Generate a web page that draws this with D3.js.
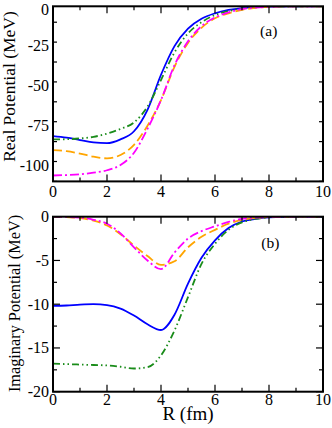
<!DOCTYPE html>
<html>
<head>
<meta charset="utf-8">
<script src="https://cdn.jsdelivr.net/npm/d3@7"></script>
<style>
  body { margin: 0; background: #fff; }
  svg { display: block; }
</style>
</head>
<body>
<svg id="chart" width="332" height="428" font-family="'Liberation Serif', 'DejaVu Serif', serif"></svg>
<script>
// radial grid (fm)
var R = [0, 0.5, 1, 1.5, 2, 2.5, 3, 3.5, 4, 4.5, 5, 5.5, 6, 6.5, 7, 7.5, 8, 9, 10];

// real potentials (MeV)
var realBlue    = [-81.5, -82.5, -84, -85.5, -86, -83.6, -78.5, -65, -43, -25, -14, -7.8, -4.4, -2.3, -1.1, -0.5, -0.2, 0, 0];
var realGreen   = [-83.6, -83.5, -83, -82, -80, -77, -73, -63, -46.3, -29, -17, -10, -5.5, -3, -1.5, -0.7, -0.3, 0, 0];
var realOrange  = [-90.3, -91, -92.5, -94.5, -95.5, -93.4, -87, -75, -58.9, -38, -23, -13.5, -7.5, -4.4, -2.2, -1, -0.4, 0, 0];
var realMagenta = [-106.3, -106, -105.5, -104.5, -103, -99.7, -92, -77, -58.9, -37, -22, -12.5, -7, -3.8, -1.8, -0.8, -0.3, 0, 0];

// imaginary potentials (MeV)
var imagBlue    = [-10.2, -10.15, -10.05, -10, -10.1, -10.5, -11.3, -12.3, -12.95, -11.2, -7.65, -4.7, -2.7, -1.3, -0.55, -0.25, -0.08, 0, 0];
var imagGreen   = [-16.8, -16.85, -16.9, -16.95, -17, -17.15, -17.35, -17.2, -15.85, -13, -9.2, -5.4, -3.1, -1.5, -0.65, -0.25, -0.08, 0, 0];
var imagOrange  = [0, -0.05, -0.15, -0.45, -1, -2, -3.3, -4.5, -5.5, -5.1, -3.5, -2.3, -1.5, -0.8, -0.35, -0.15, -0.05, 0, 0];
var imagMagenta = [0, -0.03, -0.1, -0.35, -0.8, -1.9, -3.5, -5, -6, -4.1, -2.5, -1.65, -1.1, -0.6, -0.25, -0.1, -0.03, 0, 0];

var xTicks = [0, 2, 4, 6, 8, 10];
var realTicks = [0, -25, -50, -75, -100];
var imagTicks = [0, -5, -10, -15, -20];

var svg = d3.select("#chart");
var left = 53, right = 323;

var x = d3.scaleLinear().domain([0, 10]).range([left, right]);

var styles = [
  { color: "#0000ff", dash: null },
  { color: "#1a8c1a", dash: "7,3,1.5,3,1.5,3" },
  { color: "#ffa500", dash: "9,4" },
  { color: "#ff00ff", dash: "9,3,2,3" }
];

function panel(o) {
  var top = o.top, bottom = o.bottom;
  var y = d3.scaleLinear().domain(o.domain).range([bottom, top]);
  var g = svg.append("g");

  g.append("clipPath").attr("id", "clip" + o.id)
    .append("rect").attr("x", left).attr("y", top)
    .attr("width", right - left).attr("height", bottom - top);

  var line = d3.line()
    .x(function(d, i) { return x(R[i]); })
    .y(function(d) { return y(d); })
    .curve(d3.curveMonotoneX);

  o.series.forEach(function(s, i) {
    g.append("path")
      .attr("clip-path", "url(#clip" + o.id + ")")
      .attr("d", line(s))
      .attr("fill", "none")
      .attr("stroke", styles[i].color)
      .attr("stroke-width", 1.8)
      .attr("stroke-dasharray", styles[i].dash);
  });

  // ticks: major and minor, inward on all four sides
  d3.range(0, 10.01, 1).forEach(function(v) {
    var len = (v % 2 === 0) ? 7 : 4;
    g.append("line").attr("x1", x(v)).attr("x2", x(v)).attr("y1", bottom).attr("y2", bottom - len)
      .attr("stroke", "#000").attr("stroke-width", 1.2);
    g.append("line").attr("x1", x(v)).attr("x2", x(v)).attr("y1", top).attr("y2", top + len)
      .attr("stroke", "#000").attr("stroke-width", 1.2);
  });
  d3.range(o.domain[0], o.domain[1] + 0.001, o.minor).forEach(function(v) {
    var len = o.ticks.indexOf(v) >= 0 ? 7 : 4;
    g.append("line").attr("x1", left).attr("x2", left + len).attr("y1", y(v)).attr("y2", y(v))
      .attr("stroke", "#000").attr("stroke-width", 1.2);
    g.append("line").attr("x1", right).attr("x2", right - len).attr("y1", y(v)).attr("y2", y(v))
      .attr("stroke", "#000").attr("stroke-width", 1.2);
  });

  g.append("rect")
    .attr("x", left).attr("y", top)
    .attr("width", right - left).attr("height", bottom - top)
    .attr("fill", "none").attr("stroke", "#000").attr("stroke-width", 2);

  g.selectAll(".xl").data(xTicks).enter().append("text")
    .attr("x", function(d) { return x(d); })
    .attr("y", bottom + o.xLabOff)
    .attr("text-anchor", "middle")
    .attr("font-size", 16)
    .text(function(d) { return d; });

  g.selectAll(".yl").data(o.ticks).enter().append("text")
    .attr("x", left - 4)
    .attr("y", function(d) { return Math.max(y(d) + 5.3, 14.5); })
    .attr("text-anchor", "end")
    .attr("font-size", 16)
    .text(function(d) { return d; });

  g.append("text")
    .attr("transform", "translate(" + o.titleX + "," + o.titleY + ") rotate(-90)")
    .attr("text-anchor", "middle")
    .attr("font-size", o.titleSize)
    .text(o.title);

  g.append("text")
    .attr("x", o.tagX).attr("y", o.tagY)
    .attr("text-anchor", "middle")
    .attr("font-size", 15.5)
    .text(o.tag);
}

panel({ id: "a", top: 6.3, bottom: 181.4, domain: [-110, 0], ticks: realTicks, minor: 12.5,
  series: [realBlue, realGreen, realOrange, realMagenta],
  title: "Real Potential (MeV)", titleX: 15, titleY: 86.5, titleSize: 17.5,
  tag: "(a)", tagX: 268.7, tagY: 36, xLabOff: 15.3 });
panel({ id: "b", top: 216.7, bottom: 391.7, domain: [-20, 0], ticks: imagTicks, minor: 2.5,
  series: [imagBlue, imagGreen, imagOrange, imagMagenta],
  title: "Imaginary Potential (MeV)", titleX: 19.5, titleY: 303.5, titleSize: 16.3,
  tag: "(b)", tagX: 270.3, tagY: 247.5, xLabOff: 13.5 });

svg.append("text")
  .attr("x", (left + right) / 2)
  .attr("y", 420)
  .attr("text-anchor", "middle")
  .attr("font-size", 19)
  .text("R (fm)");
</script>
</body>
</html>
